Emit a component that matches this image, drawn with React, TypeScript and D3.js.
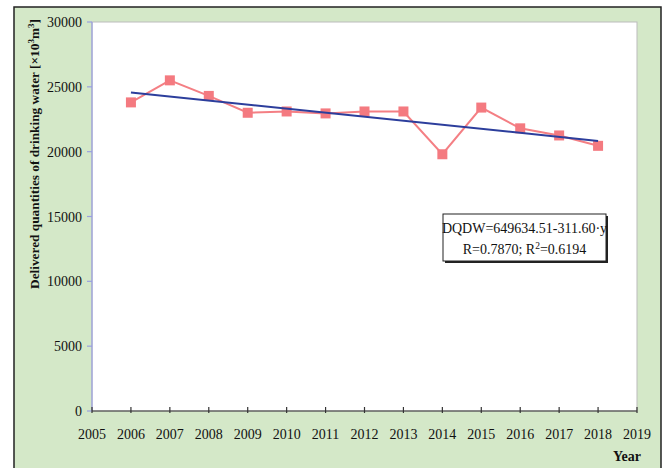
import React from "react";
import * as d3 from "d3";

const years = [2006, 2007, 2008, 2009, 2010, 2011, 2012, 2013, 2014, 2015, 2016, 2017, 2018];
const quantities = [23800, 25500, 24300, 23000, 23100, 22950, 23100, 23100, 19800, 23400, 21800, 21250, 20450];
const xTicks = d3.range(2005, 2020);
const yTicks = [0, 5000, 10000, 15000, 20000, 25000, 30000];
const trendIntercept = 649634.51;
const trendSlope = -311.6;
const equationLines = ["DQDW=649634.51-311.60·y", "R=0.7870; R²=0.6194"];

const W = 668;
const H = 468;
const plot = { left: 92, top: 22, right: 637, bottom: 411 };
const serif = "'Liberation Serif', 'Times New Roman', serif";

export default function App() {
  const x = d3.scaleLinear().domain([2005, 2019]).range([plot.left, plot.right]);
  const y = d3.scaleLinear().domain([0, 30000]).range([plot.bottom, plot.top]);
  const line = d3
    .line<number>()
    .x((_, i) => x(years[i]))
    .y((d) => y(d));
  const trend = (yr: number) => trendIntercept + trendSlope * yr;
  const t0 = years[0];
  const t1 = years[years.length - 1];

  return (
    <svg width={W} height={H} style={{ position: "absolute", left: 0, top: 0 }}>
      <rect x={14} y={7} width={647} height={470} fill="#d4e8c8" stroke="#222" strokeWidth={1.5} />
      <rect
        x={plot.left}
        y={plot.top}
        width={plot.right - plot.left}
        height={plot.bottom - plot.top}
        fill="#fff"
        stroke="#bbb"
        strokeWidth={1}
      />
      {/* y axis */}
      <line x1={plot.left} x2={plot.left} y1={plot.top} y2={plot.bottom} stroke="#9aa0e0" strokeWidth={1.2} />
      {yTicks.map((t) => (
        <g key={t}>
          <line x1={plot.left - 5} x2={plot.left} y1={y(t)} y2={y(t)} stroke="#9aa0e0" strokeWidth={1.2} />
          <text x={plot.left - 10} y={y(t) + 5} textAnchor="end" fontFamily={serif} fontSize={14} fill="#111">
            {t}
          </text>
        </g>
      ))}
      {/* x axis */}
      <line x1={plot.left} x2={plot.right} y1={plot.bottom} y2={plot.bottom} stroke="#333" strokeWidth={1.2} />
      {xTicks.map((t) => (
        <g key={t}>
          <line x1={x(t)} x2={x(t)} y1={plot.bottom - 4} y2={plot.bottom + 2} stroke="#333" strokeWidth={1.2} />
          <text x={x(t)} y={plot.bottom + 28} textAnchor="middle" fontFamily={serif} fontSize={14} fill="#111">
            {t}
          </text>
        </g>
      ))}
      <text x={627} y={461} textAnchor="middle" fontFamily={serif} fontSize={14} fontWeight="bold" fill="#111">
        Year
      </text>
      <text
        transform={`translate(39, 154) rotate(-90)`}
        textAnchor="middle"
        fontFamily={serif}
        fontSize={13.3}
        fontWeight="bold"
        fill="#111"
      >
        Delivered quantities of drinking water [×10
        <tspan dy={-5} fontSize={9}>3</tspan>
        <tspan dy={5}>m</tspan>
        <tspan dy={-5} fontSize={9}>3</tspan>
        <tspan dy={5}>]</tspan>
      </text>
      {/* data series */}
      <path d={line(quantities) ?? ""} fill="none" stroke="#f47f84" strokeWidth={2} />
      {quantities.map((v, i) => (
        <rect key={i} x={x(years[i]) - 5} y={y(v) - 5} width={10} height={10} fill="#f47a80" />
      ))}
      {/* linear trend */}
      <line x1={x(t0)} y1={y(trend(t0))} x2={x(t1)} y2={y(trend(t1))} stroke="#2c3e9c" strokeWidth={2} />
      {/* equation box */}
      <rect x={445} y={216} width={163} height={47} fill="#222" />
      <rect x={443} y={214} width={163} height={47} fill="#fff" stroke="#222" strokeWidth={1} />
      <text x={524.5} y={233} textAnchor="middle" fontFamily={serif} fontSize={14} fill="#111">
        {equationLines[0]}
      </text>
      <text x={524.5} y={254} textAnchor="middle" fontFamily={serif} fontSize={14} fill="#111">
        R=0.7870; R<tspan dy={-5} fontSize={9.5}>2</tspan>
        <tspan dy={5}>=0.6194</tspan>
      </text>
    </svg>
  );
}
